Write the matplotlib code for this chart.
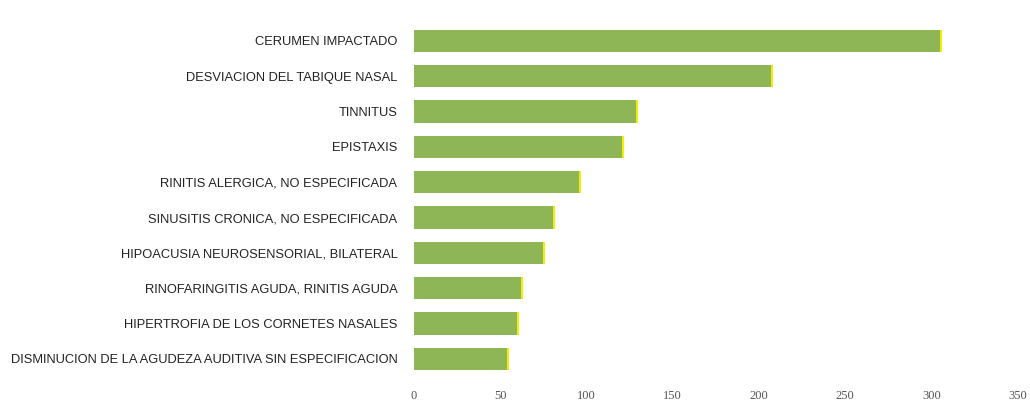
import matplotlib.pyplot as plt

categorias = [
    "CERUMEN IMPACTADO",
    "DESVIACION DEL TABIQUE NASAL",
    "TINNITUS",
    "EPISTAXIS",
    "RINITIS ALERGICA, NO ESPECIFICADA",
    "SINUSITIS CRONICA, NO ESPECIFICADA",
    "HIPOACUSIA NEUROSENSORIAL, BILATERAL",
    "RINOFARINGITIS AGUDA, RINITIS AGUDA",
    "HIPERTROFIA DE LOS CORNETES NASALES",
    "DISMINUCION DE LA AGUDEZA AUDITIVA SIN ESPECIFICACION",
]
casos = [306, 208, 130, 122, 97, 82, 76, 63, 61, 55]
ticks_x = [0, 50, 100, 150, 200, 250, 300, 350]

GREEN = "#8fb656"
YELLOW = "#f2f000"

fig = plt.figure(figsize=(10.3, 4.08), dpi=100, facecolor="white")
ax = fig.add_axes([0.402, 0.077, 0.586, 0.866])

pos = list(range(len(categorias)))
ax.barh(pos, casos, height=0.63, color=GREEN, edgecolor="none")
# borde amarillo a la derecha de cada barra
ax.barh(pos, [1.2] * len(casos), left=[c - 1.2 for c in casos],
        height=0.63, color=YELLOW, edgecolor="none")

ax.set_xlim(0, 350)
ax.set_ylim(len(categorias) - 0.5, -0.5)
ax.set_yticks(pos)
ax.set_yticklabels(categorias, fontsize=9.25, color="#222222",
                   family="Liberation Sans")
ax.set_xticks(ticks_x)
ax.set_xticklabels([str(t) for t in ticks_x], fontsize=9, color="#555555",
                   family="Liberation Serif")

for s in ax.spines.values():
    s.set_visible(False)
ax.tick_params(axis="both", length=0)
ax.tick_params(axis="y", pad=12)
ax.tick_params(axis="x", pad=10)

plt.savefig("out.png", dpi=100, facecolor="white")
